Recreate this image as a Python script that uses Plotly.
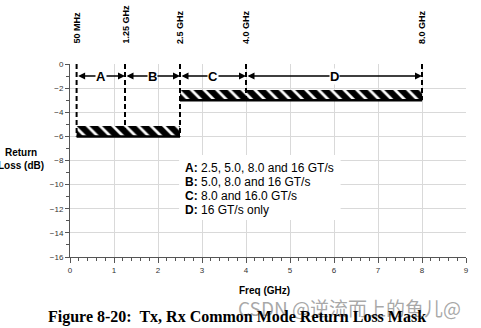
import plotly.graph_objects as go

# ---- data ----
freq_marks = [0.15, 1.25, 2.5, 4.0, 8.0]
freq_labels = ["50 MHz", "1.25 GHz", "2.5 GHz", "4.0 GHz", "8.0 GHz"]
mark_bottom = [-6, -6, -6, -3, -3]

mask_start = [0.15, 2.5]
mask_end = [2.5, 8.0]
mask_level = [-6, -3]
hatch_height = 0.85

span_names = ["A", "B", "C", "D"]
span_start = [0.15, 1.25, 2.5, 4.0]
span_end = [1.25, 2.5, 4.0, 8.0]
span_y = -1

legend_keys = ["A:", "B:", "C:", "D:"]
legend_texts = ["2.5, 5.0, 8.0 and 16 GT/s", "5.0, 8.0 and 16 GT/s",
                "8.0 and 16.0 GT/s", "16 GT/s only"]
legend_y = [-8.6, -9.78, -10.95, -12.1]

x_range = [0, 9]
y_range = [-16, 0]

FONT = "Liberation Sans, Arial, sans-serif"
NARROW = "Liberation Sans Narrow, Arial Narrow, Liberation Sans, sans-serif"

fig = go.Figure()

# hatched mask bands
for x0, x1, lvl in zip(mask_start, mask_end, mask_level):
    fig.add_trace(go.Scatter(
        x=[x0, x1, x1, x0, x0],
        y=[lvl, lvl, lvl + hatch_height, lvl + hatch_height, lvl],
        mode="lines", line=dict(width=0), fill="toself",
        fillcolor="white",
        fillpattern=dict(shape="\\", fgcolor="black", bgcolor="white",
                         fgopacity=1, size=9, solidity=0.7),
        hoverinfo="skip", showlegend=False))
    fig.add_trace(go.Scatter(
        x=[x0, x1], y=[lvl, lvl], mode="lines",
        line=dict(color="black", width=2.5), showlegend=False))

# dashed frequency markers
for xm, yb in zip(freq_marks, mark_bottom):
    fig.add_trace(go.Scatter(
        x=[xm, xm], y=[0, yb], mode="lines",
        line=dict(color="black", width=2, dash="5px,3px"),
        showlegend=False))
    fig.add_trace(go.Scatter(
        x=[xm], y=[0.2], mode="markers", cliponaxis=False,
        marker=dict(symbol="line-ns", size=5,
                    line=dict(color="black", width=2)),
        showlegend=False))

annotations = []
for xm, lab in zip(freq_marks, freq_labels):
    annotations.append(dict(
        x=xm, y=0, xref="x", yref="y", text="<b>%s</b>" % lab,
        showarrow=False, textangle=-90, yanchor="bottom", xanchor="center",
        yshift=18, font=dict(family=NARROW, size=9, color="black")))

for nm, s, e in zip(span_names, span_start, span_end):
    annotations.append(dict(
        x=e, y=span_y, ax=s, ay=span_y, xref="x", yref="y",
        axref="x", ayref="y", text="", showarrow=True,
        arrowhead=2, startarrowhead=2, arrowside="end+start",
        arrowsize=1, startarrowsize=1, arrowwidth=1.4, arrowcolor="black",
        standoff=0, startstandoff=0))
    annotations.append(dict(
        x=(s + e) / 2, y=span_y, xref="x", yref="y",
        text="<b>%s</b>" % nm, showarrow=False, bgcolor="white",
        borderpad=0, font=dict(family=FONT, size=13, color="black")))

for k, t, yy in zip(legend_keys, legend_texts, legend_y):
    annotations.append(dict(
        x=2.565, y=yy, xref="x", yref="y", xanchor="left", yanchor="middle",
        text="<b>%s</b> %s" % (k, t), showarrow=False,
        font=dict(family=FONT, size=12, color="black")))

# axis titles, caption, watermark
annotations.append(dict(
    x=-0.125, y=-7.9, xref="paper", yref="y", text="<b>Return<br>Loss (dB)</b>",
    showarrow=False, align="center", xanchor="center", yanchor="middle",
    font=dict(family=FONT, size=10, color="black")))
annotations.append(dict(
    x=4.43, y=0, xref="x", yref="paper", yshift=-33, yanchor="middle",
    xanchor="center",
    text="<b>Freq (GHz)</b>", showarrow=False,
    font=dict(family=FONT, size=10, color="black")))
annotations.append(dict(
    x=0.7046, y=0, xref="paper", yref="paper", yshift=-50, yanchor="middle",
    xanchor="center",
    text="CSDN @逆流而上的鱼儿@", showarrow=False,
    font=dict(family="Noto Sans CJK SC, Noto Sans, sans-serif", size=19,
              color="rgba(140,140,140,0.75)")))
annotations.append(dict(
    x=0.4218, y=0, xref="paper", yref="paper", yshift=-60, yanchor="middle",
    xanchor="center",
    text="<b>Figure 8-20:  Tx, Rx Common Mode Return Loss Mask</b>",
    showarrow=False,
    font=dict(family="Liberation Serif, DejaVu Serif, serif", size=16,
              color="black")))

fig.update_layout(
    width=481, height=328,
    margin=dict(l=70, r=12, t=64, b=71),
    paper_bgcolor="white", plot_bgcolor="white",
    font=dict(family=FONT, size=8, color="#333"),
    annotations=annotations,
    shapes=[dict(type="rect", xref="x", yref="y", x0=2.48, x1=6.15,
                 y0=-7.55, y1=-12.94, fillcolor="white",
                 line=dict(width=0), layer="between")],
    showlegend=False,
)
fig.update_xaxes(
    range=x_range, dtick=1, tick0=0, showgrid=True, gridcolor="#d9d9d9",
    gridwidth=1, zeroline=False, showline=True, linecolor="#555",
    ticks="outside", ticklen=5, tickcolor="#555",
    tickfont=dict(size=8, color="#333"),
    minor=dict(dtick=0.2, ticklen=3, tickcolor="#555", showgrid=False,
               ticks="outside"),
    fixedrange=True)
fig.update_yaxes(
    range=y_range, dtick=2, tick0=0, showgrid=True, gridcolor="#d9d9d9",
    gridwidth=1, zeroline=False, showline=True, linecolor="#555",
    ticks="outside", ticklen=4, tickcolor="#555",
    tickfont=dict(size=8, color="#333"),
    minor=dict(dtick=1, ticklen=3, tickcolor="#555", showgrid=False,
               ticks="outside"),
    fixedrange=True)

fig.write_html("out.html", config=dict(displayModeBar=False))
